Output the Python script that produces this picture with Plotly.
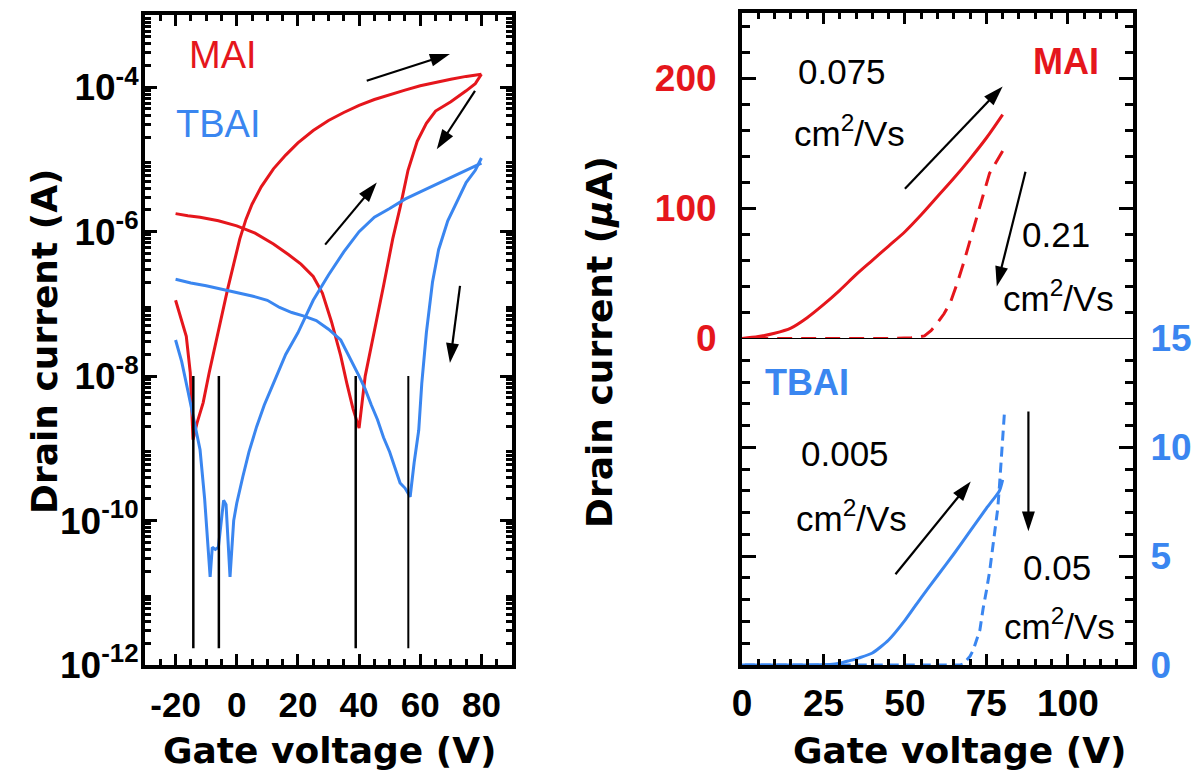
import numpy as np
import plotly.graph_objects as go

# ---------------- data (left panel: transfer curves, log scale) ----------------
# Gate voltage (V) and log10(drain current / A)
mai_fwd_v = [-20, -18, -16.5, -15.2, -14.3, -13, -11, -9, -7, -5, -3, -1, 1, 3, 5, 8, 12, 16, 20,
             25, 30, 35, 40, 45, 50, 55, 60, 65, 70, 75, 80]
mai_fwd_logi = [-6.95, -7.22, -7.45, -7.95, -8.88, -8.65, -8.37, -7.95, -7.55, -7.15, -6.8, -6.45,
                -6.1, -5.83, -5.62, -5.38, -5.13, -4.94, -4.77, -4.6, -4.46, -4.35, -4.25, -4.17,
                -4.1, -4.04, -3.98, -3.93, -3.89, -3.85, -3.82]
mai_rev_v = [80, 78, 75, 70, 65, 62, 59, 56, 53.5, 51, 48, 45, 42, 40, 38, 36, 34, 31, 28, 25,
             21, 17, 12, 6, 0, -6, -12, -16, -20]
mai_rev_logi = [-3.82, -3.95, -4.05, -4.2, -4.33, -4.5, -4.75, -5.15, -5.65, -6.1, -6.75, -7.35,
                -8.0, -8.72, -8.45, -8.1, -7.72, -7.25, -6.85, -6.62, -6.45, -6.32, -6.17, -6.02,
                -5.92, -5.85, -5.8, -5.78, -5.75]
tbai_fwd_v = [-20, -18, -16, -14, -12, -10.5, -9.5, -8.7, -8, -7, -6, -5, -4.3, -3.5, -2.2, -1, 0,
              2, 4, 6.5, 9, 12, 16, 20, 25, 30, 35, 40, 45, 50, 55, 60, 65, 70, 75, 80]
tbai_fwd_logi = [-7.5, -7.8, -8.2, -8.6, -9.02, -9.7, -10.3, -10.78, -10.37, -10.4, -10.37, -10.0,
                 -9.72, -9.78, -10.78, -10.0, -9.76, -9.39, -9.05, -8.7, -8.4, -8.1, -7.7, -7.4,
                 -6.95, -6.6, -6.28, -6.0, -5.8, -5.68, -5.55, -5.45, -5.35, -5.25, -5.15, -5.05]
tbai_rev_v = [80, 78, 75, 72, 69, 66, 64, 62, 60.5, 59.5, 58, 56.7, 55, 53.4, 51.5, 50, 48, 46, 44,
              42, 40, 37, 34, 30, 26, 22, 18, 14, 10, 5, 0, -5, -10, -15, -20]
tbai_rev_logi = [-4.98, -5.15, -5.32, -5.58, -5.85, -6.25, -6.7, -7.4, -8.1, -8.75, -9.2, -9.67,
                 -9.55, -9.48, -9.25, -9.05, -8.85, -8.6, -8.4, -8.18, -8.0, -7.75, -7.5, -7.35,
                 -7.23, -7.17, -7.12, -7.05, -6.95, -6.89, -6.84, -6.79, -6.75, -6.71, -6.66]
# vertical marker lines (turn-on voltages) and their current span (A)
marker_v = [-14.2, -5.85, 38.9, 56.1]
marker_i_top = 1e-8
marker_i_bottom = 1.7e-12

# ---------------- data (right panel: linear scale) ----------------
mai_lin_fwd_v = [0, 5, 10, 15, 20, 25, 30, 35, 40, 45, 50, 55, 60, 65, 70, 75, 80]
mai_lin_fwd_i = [0, 1.5, 4, 8, 16, 26, 37, 49, 60, 71, 82, 95, 109, 123, 138, 154, 172]   # uA
mai_lin_rev_v = [80, 78, 76, 74, 72, 70, 68, 66, 64, 62, 60, 58, 56, 52, 45, 35, 25, 15, 5, 0]
mai_lin_rev_i = [144, 136, 127, 110, 92, 76, 58, 42, 28, 19, 12, 6, 2, 0.5, 0, 0, 0, 0, 0, 0]
tbai_lin_fwd_v = [0, 10, 20, 27, 30, 33, 36, 40, 45, 50, 55, 60, 65, 70, 75, 79, 80]
tbai_lin_fwd_i = [0, 0, 0, 0.02, 0.08, 0.2, 0.33, 0.55, 1.15, 2.05, 3.1, 4.1, 5.1, 6.15, 7.2, 8.0, 8.5]
tbai_lin_rev_v = [80.5, 80, 79.5, 79, 78.5, 78, 77, 76, 75, 74, 73, 72, 71, 70, 69, 68, 67, 50, 30, 10, 0]
tbai_lin_rev_i = [11.5, 10.3, 9.0, 8.2, 7.2, 6.6, 5.3, 4.3, 3.4, 2.6, 1.6, 1.1, 0.7, 0.4, 0.2, 0.05,
                  0, 0, 0, 0, 0]

# sweep-direction arrows: (tail V, head V), (tail value, head value)
left_arrows_v = [(42.5, 69.7), (77.9, 65.4), (28.9, 45.8), (73.0, 69.7)]
left_arrows_logi = [(-3.91, -3.54), (-4.05, -4.86), (-6.18, -5.32), (-6.75, -7.82)]
mai_arrows_v = [(50, 80), (87, 78.2)]
mai_arrows_i = [(115, 193.6), (128, 40)]
tbai_arrows_v = [(47.1, 70.2), (87.9, 87.9)]
tbai_arrows_i = [(4.17, 8.43), (11.65, 6.14)]

left_label_exp = [-12, -10, -8, -6, -4]
left_odd_exp = [-11, -9, -7, -5, -3]
left_xticks = [-20, 0, 20, 40, 60, 80]
right_xticks = [0, 25, 50, 75, 100]
mai_yticks = [0, 100, 200]
tbai_yticks = [0, 5, 10, 15]

RED = "#E5161C"
BLUE = "#3A86F0"
TICKFONT = "Liberation Sans, Arial, sans-serif"
TITLEFONT = "DejaVu Sans, Arial, sans-serif"

OFF = 8                      # page body margin
W, H = 1201 - 2 * OFF, 780 - 2 * OFF
def px(x):
    return (x - OFF) / W
def py(y):
    return 1 - (y - OFF) / H

fig = go.Figure()

def logs_to_amps(vals):
    return [10 ** v for v in vals]

# left panel traces
for xs, ys, col in [(mai_fwd_v, mai_fwd_logi, RED), (mai_rev_v, mai_rev_logi, RED),
                    (tbai_fwd_v, tbai_fwd_logi, BLUE), (tbai_rev_v, tbai_rev_logi, BLUE)]:
    fig.add_trace(go.Scatter(x=xs, y=logs_to_amps(ys), mode="lines",
                             line=dict(color=col, width=3), xaxis="x", yaxis="y", showlegend=False))
for i, v in enumerate(marker_v):
    fig.add_trace(go.Scatter(x=[v, v], y=[marker_i_top, marker_i_bottom], mode="lines",
                             line=dict(color="black", width=2.5 if i < 3 else 2),
                             xaxis="x", yaxis="y", showlegend=False))

# right panel traces
fig.add_trace(go.Scatter(x=mai_lin_fwd_v, y=mai_lin_fwd_i, mode="lines",
                         line=dict(color=RED, width=3, shape="spline", smoothing=0.8),
                         xaxis="x3", yaxis="y2", showlegend=False))
fig.add_trace(go.Scatter(x=mai_lin_rev_v, y=mai_lin_rev_i, mode="lines",
                         line=dict(color=RED, width=3, dash="15px,9px"), xaxis="x3", yaxis="y2",
                         showlegend=False))
fig.add_trace(go.Scatter(x=tbai_lin_fwd_v, y=tbai_lin_fwd_i, mode="lines",
                         line=dict(color=BLUE, width=3, shape="spline", smoothing=0.6),
                         xaxis="x2", yaxis="y3", showlegend=False))
fig.add_trace(go.Scatter(x=tbai_lin_rev_v, y=tbai_lin_rev_i, mode="lines",
                         line=dict(color=BLUE, width=3, dash="10px,6px"), xaxis="x2", yaxis="y3",
                         showlegend=False))

# arrows as line + arrow-head marker traces
def add_arrow(xs, ys, xa, ya):
    fig.add_trace(go.Scatter(x=list(xs), y=list(ys), mode="lines+markers",
                             line=dict(color="black", width=2.2),
                             marker=dict(symbol=["circle", "arrow"], size=[0, 21], color="black",
                                         opacity=1, angleref="previous", line=dict(width=0)),
                             xaxis=xa, yaxis=ya, showlegend=False, hoverinfo="skip"))

for xs, ys in zip(left_arrows_v, left_arrows_logi):
    add_arrow(xs, logs_to_amps(ys), "x", "y")
for xs, ys in zip(mai_arrows_v, mai_arrows_i):
    add_arrow(xs, ys, "x3", "y2")
for xs, ys in zip(tbai_arrows_v, tbai_arrows_i):
    add_arrow(xs, ys, "x2", "y3")

LEFT_X = [px(145), px(512)]
RIGHT_X = [px(742), px(1133)]
Y_BOT = py(665)
Y_MID = py(338.5)

common = dict(showline=True, linecolor="black", linewidth=4, ticks="inside", tickcolor="black",
              tickwidth=2.5, showgrid=False, zeroline=False, automargin=False)

minor_log = [k * 10.0 ** e for e in range(-12, -3) for k in range(2, 10)]

fig.update_layout(
    template="none",
    width=W, height=H, margin=dict(l=0, r=0, t=0, b=0, pad=0),
    paper_bgcolor="white", plot_bgcolor="white",
    xaxis=dict(domain=LEFT_X, anchor="y", range=[-30, 90], tickmode="array", tickvals=left_xticks,
               ticktext=[str(v) for v in left_xticks],
               ticklen=11, mirror="allticks",
               minor=dict(dtick=5, tick0=0, ticklen=6, tickwidth=2.5, tickcolor="black", ticks="inside"),
               tickfont=dict(family=TICKFONT, size=35, color="black", weight="bold"),
               ticklabelstandoff=6, **common),
    yaxis=dict(domain=[Y_BOT, py(15)], anchor="x", type="log", range=[-12, -3],
               tickmode="array", tickvals=[10.0 ** e for e in left_label_exp],
               ticktext=["10<sup>%d</sup>" % e for e in left_label_exp],
               ticklen=12, mirror="allticks",
               minor=dict(tickmode="array", tickvals=minor_log, ticklen=6, tickwidth=2.5,
                          tickcolor="black", ticks="inside"),
               tickfont=dict(family=TICKFONT, size=37, color="black", weight="bold"),
               ticklabelstandoff=-5, **common),
    # unlabeled long ticks at odd decades
    yaxis4=dict(domain=[Y_BOT, py(15)], anchor="x", overlaying="y", type="log", range=[-12, -3],
                tickmode="array", tickvals=[10.0 ** e for e in left_odd_exp], showticklabels=False,
                ticks="inside", ticklen=12, tickwidth=2.5, tickcolor="black", mirror="allticks",
                showline=False, showgrid=False, zeroline=False, automargin=False),
    # right bottom x axis (with labels)
    xaxis2=dict(domain=RIGHT_X, anchor="y3", range=[0, 120], tickmode="array", tickvals=right_xticks,
                ticklen=11,
                minor=dict(dtick=5, tick0=0, ticklen=6, tickwidth=2.5, tickcolor="black", ticks="inside"),
                tickfont=dict(family=TICKFONT, size=37, color="black", weight="bold"),
                ticklabelstandoff=3, **common),
    # right top x axis (no labels, on top)
    xaxis3=dict(domain=RIGHT_X, anchor="y2", side="top", matches="x2", range=[0, 120],
                tickmode="array", tickvals=right_xticks, ticklen=11, showticklabels=False,
                minor=dict(dtick=5, tick0=0, ticklen=6, tickwidth=2.5, tickcolor="black", ticks="inside"),
                **common),
    yaxis2=dict(domain=[Y_MID, py(13)], anchor="x3", range=[0, 250], tickmode="array",
                tickvals=mai_yticks, ticklen=14, mirror="allticks",
                minor=dict(dtick=20, tick0=0, ticklen=8, tickwidth=2.5, tickcolor="black", ticks="inside"),
                tickfont=dict(family=TICKFONT, size=37, color=RED, weight="bold"),
                ticklabelstandoff=14, **common),
    yaxis3=dict(domain=[Y_BOT, Y_MID], anchor="x2", side="right", range=[0, 15], tickmode="array",
                tickvals=tbai_yticks, ticklen=14, mirror="allticks",
                minor=dict(dtick=1, tick0=0, ticklen=8, tickwidth=2.5, tickcolor="black", ticks="inside"),
                tickfont=dict(family=TICKFONT, size=37, color=BLUE, weight="bold"),
                ticklabelstandoff=6, **common),
)

# thin divider between the two right sub-panels
fig.add_shape(type="line", xref="paper", yref="paper", x0=RIGHT_X[0], x1=RIGHT_X[1],
              y0=Y_MID, y1=Y_MID, line=dict(color="black", width=1.2))

ann = []
# axis titles
def title(text, x, y, angle=0):
    ann.append(dict(text=text, x=px(x), y=py(y), xref="paper", yref="paper", xanchor="center",
                    yanchor="middle", textangle=angle, showarrow=False,
                    font=dict(family=TITLEFONT, size=36, color="black")))

title("<b>Drain current (A)</b>", 45, 342, -90)
title("<b>Gate voltage (V)</b>", 330, 750)
title("<b>Drain current (<i>μ</i>A)</b>", 600, 342, -90)
title("<b>Gate voltage (V)</b>", 960, 750)

# left panel labels
ann.append(dict(text="MAI", x=-4.5, y=-3.56, xref="x", yref="y", showarrow=False,
                xanchor="center", yanchor="middle",
                font=dict(family=TICKFONT, size=38, color=RED)))
ann.append(dict(text="TBAI", x=-6.2, y=-4.51, xref="x", yref="y", showarrow=False,
                xanchor="center", yanchor="middle",
                font=dict(family=TICKFONT, size=38, color=BLUE)))

# right panel texts
MOB = "cm<sup>2</sup>/Vs"
txt = [("0.075", 30.6, 205, "y2"), (MOB, 33, 159, "y2"), ("0.21", 96.5, 79.5, "y2"), (MOB, 97, 33, "y2"),
       ("0.005", 31.7, 9.7, "y3"), (MOB, 33.5, 6.85, "y3"), ("0.05", 96.8, 4.49, "y3"), (MOB, 97.4, 1.89, "y3")]
for t, x, y, yr in txt:
    ann.append(dict(text=t, x=x, y=y, xref="x2", yref=yr, showarrow=False,
                    xanchor="center", yanchor="middle",
                    font=dict(family=TICKFONT, size=35, color="black")))
ann.append(dict(text="<b>MAI</b>", x=99.4, y=213, xref="x2", yref="y2", showarrow=False,
                xanchor="center", yanchor="middle",
                font=dict(family=TICKFONT, size=36, color=RED)))
ann.append(dict(text="<b>TBAI</b>", x=20, y=12.96, xref="x2", yref="y3", showarrow=False,
                xanchor="center", yanchor="middle",
                font=dict(family=TICKFONT, size=36, color=BLUE)))

fig.update_layout(annotations=ann)
fig.write_html("out.html")
